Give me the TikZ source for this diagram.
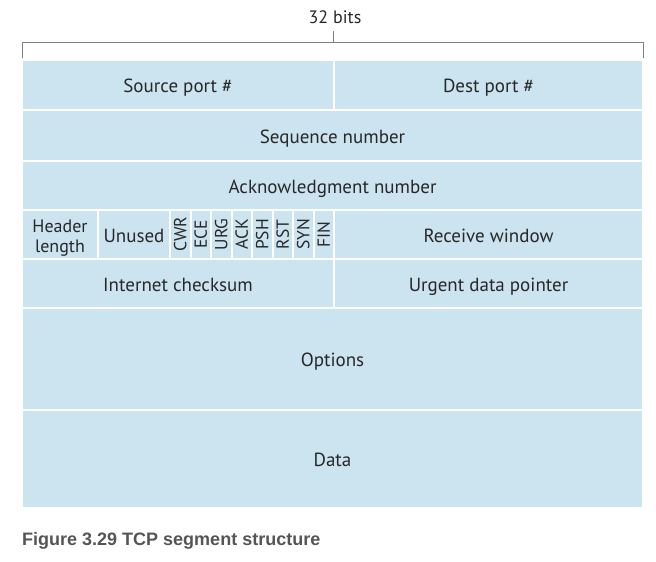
\documentclass[tikz,border=0pt]{standalone}
\usepackage{fontspec}
\usepackage{xcolor}
\usepackage{tikz}
\usetikzlibrary{positioning}
\newfontfamily\fieldfont{PT Sans}
\newfontfamily\captionfont{Liberation Sans}
\definecolor{cellblue}{RGB}{204,227,240}
\definecolor{textgray}{RGB}{40,40,40}
\definecolor{capgray}{RGB}{85,85,85}

\begin{document}
\begin{tikzpicture}[
      x=1pt, y=-1pt,
      field/.style={
        rectangle,
        fill=cellblue,
        draw=white,
        line width=2pt,
        inner sep=0pt,
        align=center,
        text=textgray,
        text height=19pt, % same baseline for every label
        text depth=4pt,
        font=\fieldfont\fontsize{19}{21}\selectfont
      },
      flag/.style={
        field,
        text height=, text depth=,
        minimum width=20.5pt,
        minimum height=49pt,
        font=\fieldfont\fontsize{17.5}{18}\selectfont
      }
    ]
    \useasboundingbox (0,0) rectangle (656,562);
    % width label and bracket
    \node[text=textgray, font=\fieldfont\fontsize{18}{20}\selectfont] (width) at (335,17) {32 bits};
    \draw[gray, line width=0.8pt] (22,58) -- (22,42) -- (643,42) -- (643,58);
    \draw[gray, line width=0.8pt] (333,42) -- (333,31);
    % row 1
    \node[field, minimum width=312pt, minimum height=50pt] (src) at (178,85) {Source port \#};
    \node[field, minimum width=309pt, minimum height=50pt] (dst) at (488.5,85) {Dest port \#};
    % rows 2 and 3
    \node[field, minimum width=621pt, minimum height=51pt] (seq) at (332.5,135.5) {Sequence number};
    \node[field, minimum width=621pt, minimum height=49pt] (ack) at (332.5,185.5) {Acknowledgment number};
    % row 4
    \node[field, text height=, text depth=, minimum width=76pt, minimum height=49pt, font=\fieldfont\fontsize{18}{19.5}\selectfont] (hlen) at (60,234.5) {\rule{0pt}{19.5pt}Header\\length};
    \node[field, minimum width=72pt, minimum height=49pt] (unused) at (134,234.5) {Unused};
    \node[flag] (cwr) at (180.25,234.5) {\rotatebox{90}{CWR}};
    \node[flag] (ece) at (200.75,234.5) {\rotatebox{90}{ECE}};
    \node[flag] (urg) at (221.25,234.5) {\rotatebox{90}{URG}};
    \node[flag] (ackf) at (241.75,234.5) {\rotatebox{90}{ACK}};
    \node[flag] (psh) at (262.25,234.5) {\rotatebox{90}{PSH}};
    \node[flag] (rst) at (282.75,234.5) {\rotatebox{90}{RST}};
    \node[flag] (syn) at (303.25,234.5) {\rotatebox{90}{SYN}};
    \node[flag] (fin) at (323.75,234.5) {\rotatebox{90}{FIN}};
    \node[field, minimum width=309pt, minimum height=49pt] (rwnd) at (488.5,234.5) {Receive window};
    % row 5
    \node[field, minimum width=312pt, minimum height=49pt] (csum) at (178,283.5) {Internet checksum};
    \node[field, minimum width=309pt, minimum height=49pt] (urgp) at (488.5,283.5) {Urgent data pointer};
    % rows 6 and 7
    \node[field, minimum width=621pt, minimum height=102pt] (opts) at (332.5,359) {Options};
    \node[field, minimum width=621pt, minimum height=98pt] (data) at (332.5,459) {Data};
    % caption
    \node[anchor=west, inner sep=0pt, text=capgray, font=\captionfont\bfseries\fontsize{18}{20}\selectfont] (cap) at (22,541) {Figure 3.29 TCP segment structure};
  \end{tikzpicture}
\end{document}
